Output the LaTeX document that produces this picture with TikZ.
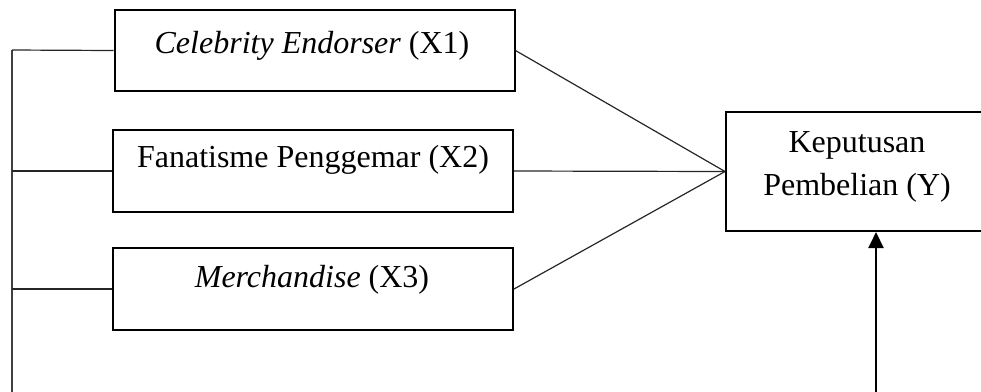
\documentclass[tikz,border=0pt]{standalone}
\usepackage{fontspec}
\setmainfont{Liberation Serif}
\usetikzlibrary{arrows.meta,calc}
\tikzset{
  box/.style={draw=black, line width=0.75pt, inner sep=0pt, minimum width=400*0.375pt},
  lbl/.style={anchor=base, font=\fontsize{12}{14}\selectfont, inner sep=0pt},
  thin/.style={draw=black!85, line width=0.45pt},
  side/.style={draw=black!75, line width=0.7pt},
  arr/.style={draw=black, line width=0.9pt, -{Triangle[length=6pt,width=5.6pt]}}
}
\begin{document}
\begin{tikzpicture}[x=0.375pt, y=-0.375pt]
\path[use as bounding box, clip] (0,0) rectangle (981,391);
% boxes
\node[box, minimum height=81*0.375pt] (x1) at (314.5,50.5) {};
\node[box, minimum height=82*0.375pt] (x2) at (313,171) {};
\node[box, minimum height=82*0.375pt] (x3) at (313,289) {};
\node[box, minimum width=264*0.375pt, minimum height=119*0.375pt] (y) at (858,171.5) {};
% texts
\node[lbl] (t1) at (312,53) {\textit{Celebrity Endorser} (X1)};
\node[lbl] (t2) at (313,167) {Fanatisme Penggemar (X2)};
\node[lbl] (t3) at (312,287) {\textit{Merchandise} (X3)};
\node[lbl] (t4) at (857,152) {Keputusan};
\node[lbl] (t5) at (857,195) {Pembelian (Y)};
% left bracket
\coordinate (lt) at (12,50);
\coordinate (lb) at (12,395);
\draw[side] (lt) -- (lb);
\draw[thin] (lt) -- (x1.west);
\draw[thin] (x2.west -| lt) -- (x2.west);
\draw[thin] (x3.west -| lt) -- (x3.west);
% connectors to Y
\draw[thin] (x1.east) -- (y.west);
\draw[thin] (x2.east) -- (y.west);
\draw[thin] (x3.east) -- (y.west);
% arrow from below
\coordinate (ab) at (876,395);
\draw[arr] (ab) -- (ab |- y.south);
\end{tikzpicture}
\end{document}
